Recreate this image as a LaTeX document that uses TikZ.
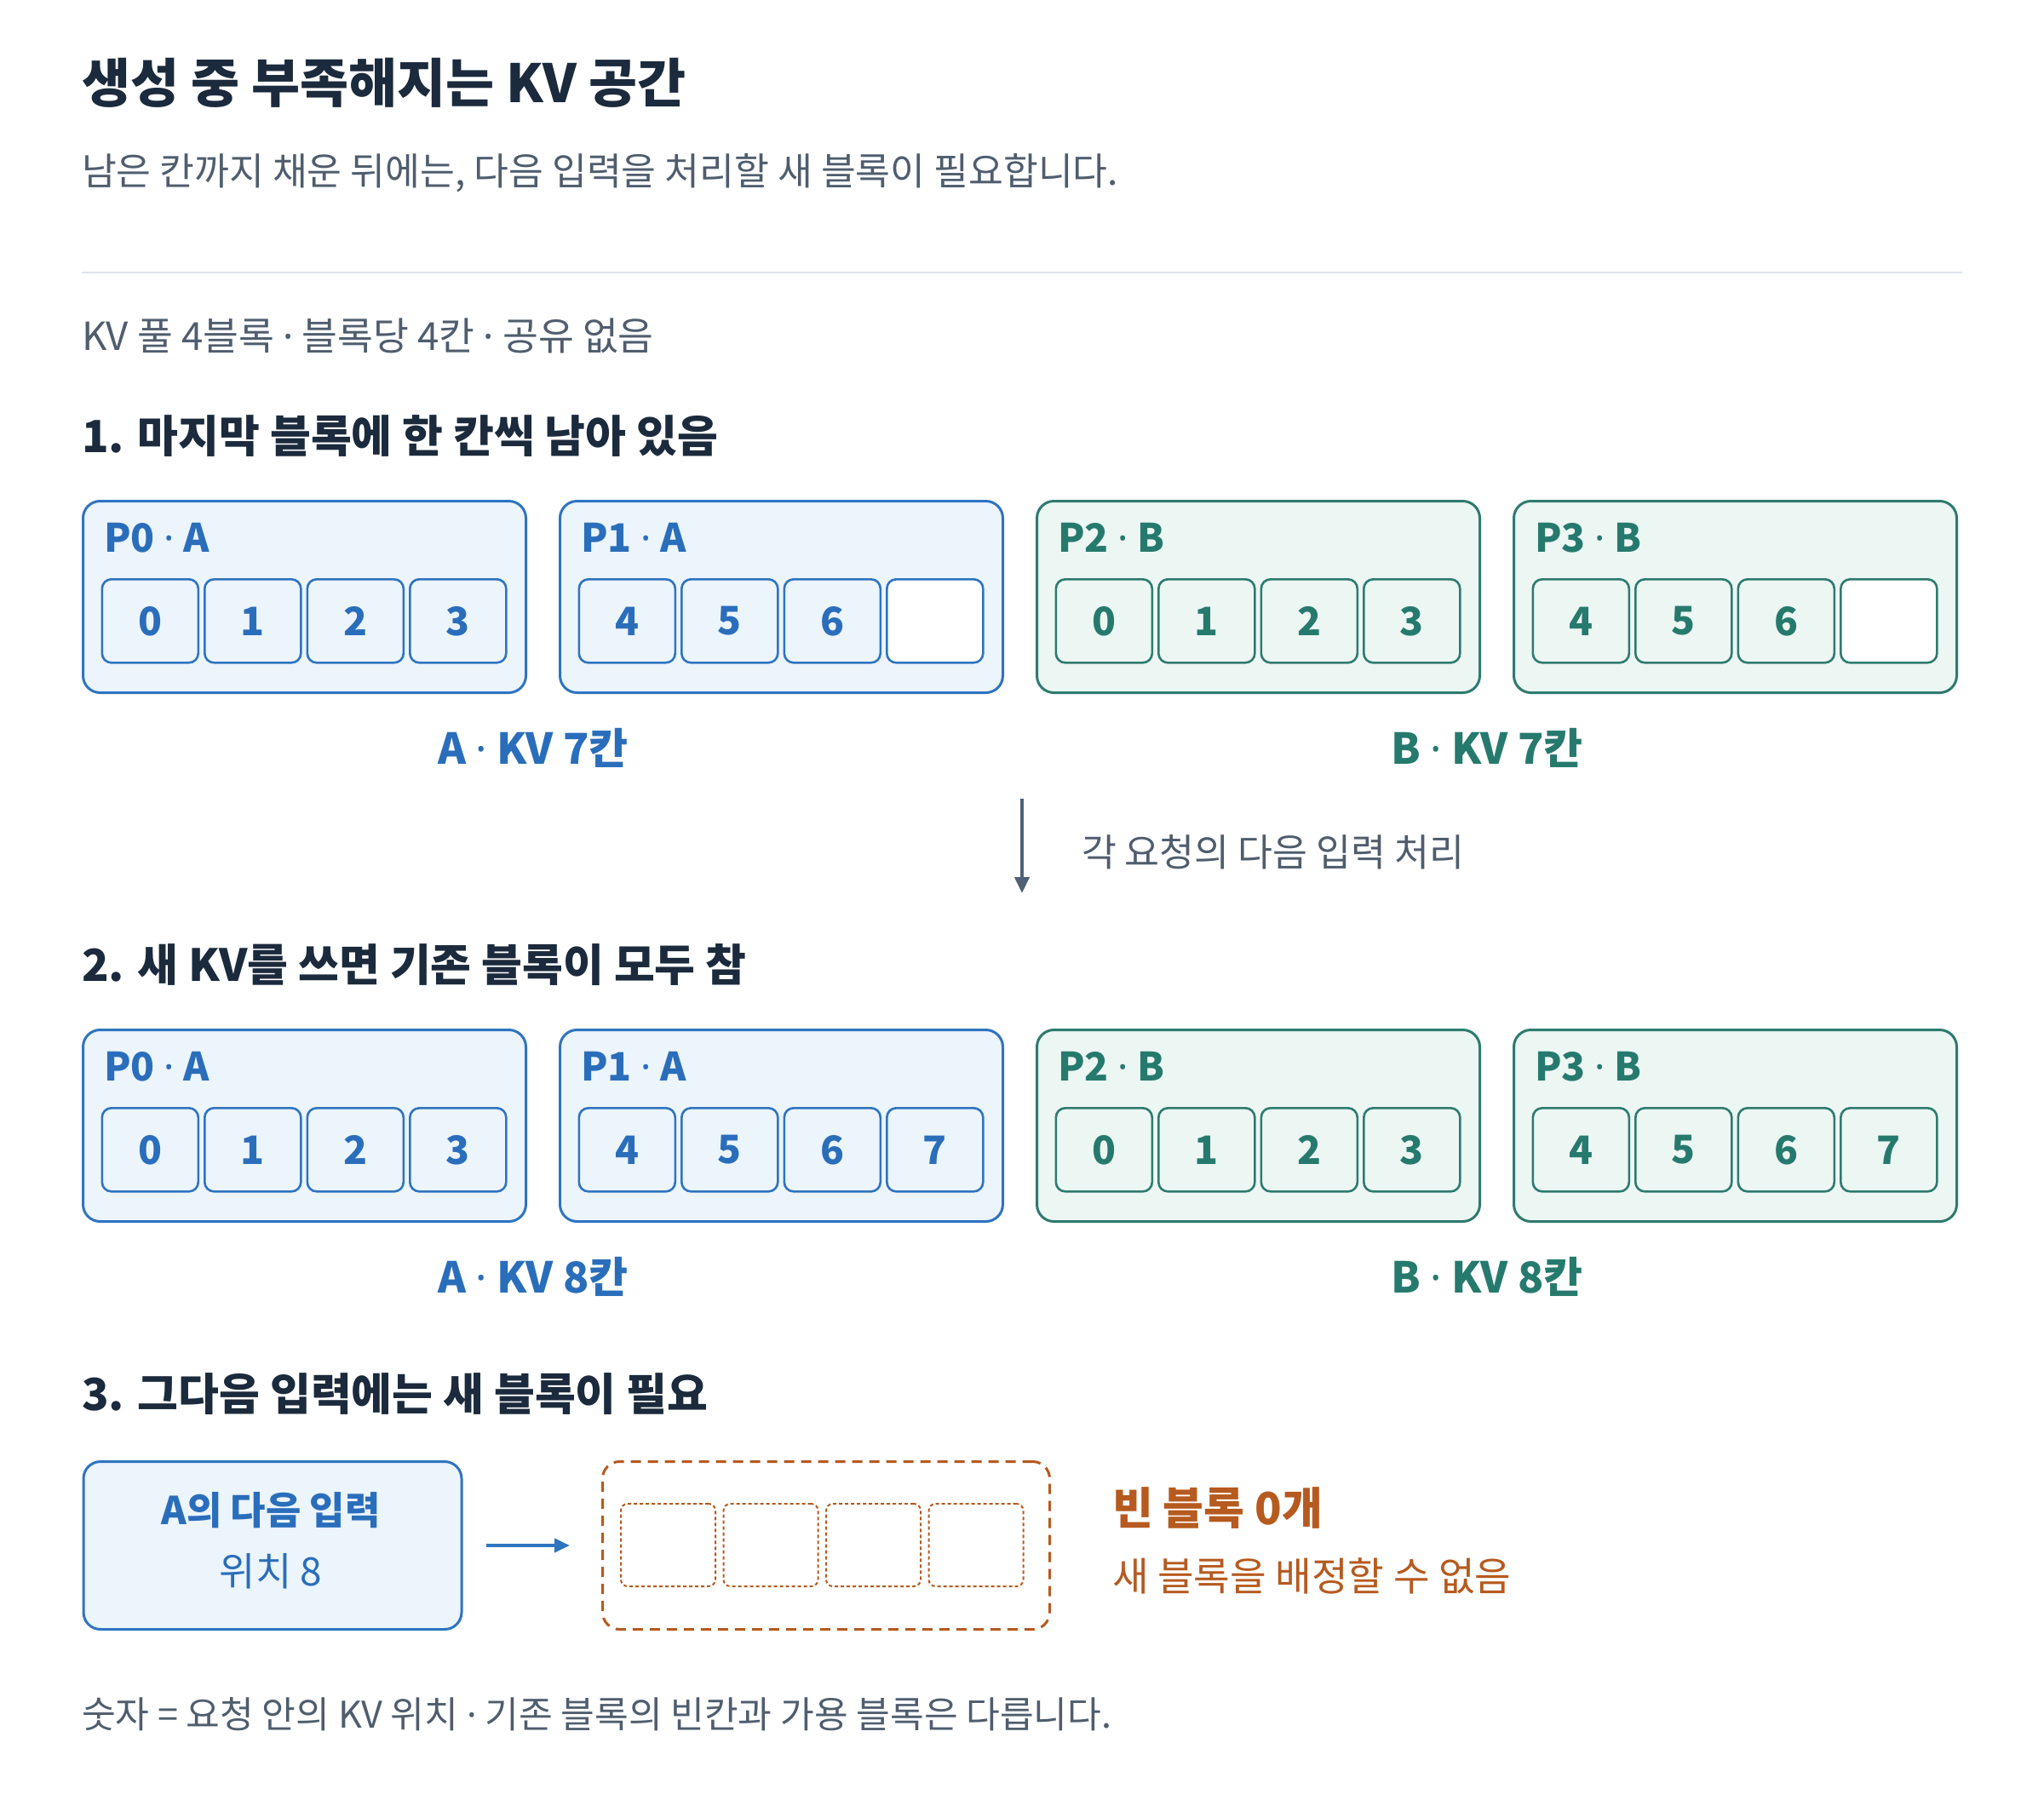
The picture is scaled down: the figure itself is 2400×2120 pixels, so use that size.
\documentclass[tikz,border=0pt]{standalone}
\usepackage{fontspec}
\setmainfont{Noto Sans CJK KR}
\newfontfamily\dotf{Noto Sans}
\newcommand\md{{\dotf ·}}
\usetikzlibrary{arrows.meta}
\definecolor{navy}{HTML}{1B2A3C}
\definecolor{subgray}{HTML}{4F5D6E}
\definecolor{rulecol}{HTML}{DDE5EE}
\definecolor{blueS}{HTML}{2F74C0}
\definecolor{blueF}{HTML}{ECF4FC}
\definecolor{blueT}{HTML}{2A6EBB}
\definecolor{greenS}{HTML}{2E7B6E}
\definecolor{greenF}{HTML}{ECF6F3}
\definecolor{greenT}{HTML}{267A6D}
\definecolor{orng}{HTML}{B65A1F}
\definecolor{arrowgray}{HTML}{4F6275}
\newcommand\fsz[1]{\fontsize{#1}{#1}\selectfont}
\begin{document}
\begin{tikzpicture}[x=1pt,y=-1pt,
  txt/.style={inner sep=0pt, outer sep=0pt, anchor=base west},
  pbox/.style={draw, line width=3pt, rounded corners=20pt, minimum width=520pt, minimum height=225pt, anchor=north west, inner sep=0pt},
  bluebox/.style={pbox, draw=blueS, fill=blueF},
  greenbox/.style={pbox, draw=greenS, fill=greenF},
  ptitle/.style={txt, font=\fsz{46}\bfseries},
  cell/.style={draw, line width=2.6pt, rounded corners=11pt, minimum width=113pt, minimum height=98pt, anchor=north west, inner sep=0pt, font=\fsz{46}\bfseries},
  bluecell/.style={cell, draw=blueS, fill=blueF, text=blueT},
  greencell/.style={cell, draw=greenS, fill=greenF, text=greenT},
  grouplabel/.style={inner sep=0pt, anchor=base, font=\fsz{50}\bfseries},
  heading/.style={txt, font=\fsz{52}\bfseries, text=navy},
  dotcell/.style={draw=orng, line width=2pt, dash pattern=on 4pt off 3pt, rounded corners=8pt, minimum width=111pt, minimum height=97pt, anchor=north west, inner sep=0pt}
]
\useasboundingbox[fill=white] (0,0) rectangle (2400,2120);

% header
\node[txt, font=\fsz{62}\bfseries, text=navy] (title) at (96,120) {생성 중 부족해지는 KV 공간};
\node[txt, font=\fsz{44.4}, text=subgray] (subtitle) at (96,217) {남은 칸까지 채운 뒤에는, 다음 입력을 처리할 새 블록이 필요합니다.};
\coordinate (ruleL) at (96,320);
\coordinate (ruleR) at (2304,320);
\draw[rulecol, line width=2pt] (ruleL) -- (ruleR);
\node[txt, font=\fsz{45.5}, text=subgray] (poolinfo) at (96,411) {KV 풀 4블록 \md{} 블록당 4칸 \md{} 공유 없음};

% section 1
\node[heading] (h1) at (96,531) {1. 마지막 블록에 한 칸씩 남아 있음};

\node[bluebox] (a0) at (96,587) {};
\node[ptitle, text=blueT] (a0t) at ([shift={(26,61)}]a0.north west) {P0 \md{} A};
\foreach \k/\v in {0/0,1/1,2/2,3/3}
  \node[bluecell] (a0c\k) at ([shift={(22.5+120.5*\k,92)}]a0.north west) {\v};

\node[bluebox] (a1) at (656,587) {};
\node[ptitle, text=blueT] (a1t) at ([shift={(26,61)}]a1.north west) {P1 \md{} A};
\foreach \k/\v in {0/4,1/5,2/6}
  \node[bluecell] (a1c\k) at ([shift={(22.5+120.5*\k,92)}]a1.north west) {\v};
\node[bluecell, fill=white] (a1c3) at ([shift={(22.5+120.5*3,92)}]a1.north west) {};

\node[greenbox] (a2) at (1216,587) {};
\node[ptitle, text=greenT] (a2t) at ([shift={(26,61)}]a2.north west) {P2 \md{} B};
\foreach \k/\v in {0/0,1/1,2/2,3/3}
  \node[greencell] (a2c\k) at ([shift={(22.5+120.5*\k,92)}]a2.north west) {\v};

\node[greenbox] (a3) at (1776,587) {};
\node[ptitle, text=greenT] (a3t) at ([shift={(26,61)}]a3.north west) {P3 \md{} B};
\foreach \k/\v in {0/4,1/5,2/6}
  \node[greencell] (a3c\k) at ([shift={(22.5+120.5*\k,92)}]a3.north west) {\v};
\node[greencell, fill=white] (a3c3) at ([shift={(22.5+120.5*3,92)}]a3.north west) {};

\node[grouplabel, text=blueT] (la1) at (626,897) {A \md{} KV 7칸};
\node[grouplabel, text=greenT] (lb1) at (1746,897) {B \md{} KV 7칸};

% transition arrow
\coordinate (dnA) at (1200,938);
\coordinate (dnB) at (1200,1049);
\draw[arrowgray, line width=4pt, -{Triangle[width=17pt,length=19pt]}] (dnA) -- (dnB);
\node[txt, font=\fsz{44.5}, text=subgray] (dnlabel) at (1270,1017) {각 요청의 다음 입력 처리};

% section 2
\node[heading] (h2) at (96,1152) {2. 새 KV를 쓰면 기존 블록이 모두 참};

\node[bluebox] (b0) at (96,1208) {};
\node[ptitle, text=blueT] (b0t) at ([shift={(26,61)}]b0.north west) {P0 \md{} A};
\foreach \k/\v in {0/0,1/1,2/2,3/3}
  \node[bluecell] (b0c\k) at ([shift={(22.5+120.5*\k,92)}]b0.north west) {\v};

\node[bluebox] (b1) at (656,1208) {};
\node[ptitle, text=blueT] (b1t) at ([shift={(26,61)}]b1.north west) {P1 \md{} A};
\foreach \k/\v in {0/4,1/5,2/6,3/7}
  \node[bluecell] (b1c\k) at ([shift={(22.5+120.5*\k,92)}]b1.north west) {\v};

\node[greenbox] (b2) at (1216,1208) {};
\node[ptitle, text=greenT] (b2t) at ([shift={(26,61)}]b2.north west) {P2 \md{} B};
\foreach \k/\v in {0/0,1/1,2/2,3/3}
  \node[greencell] (b2c\k) at ([shift={(22.5+120.5*\k,92)}]b2.north west) {\v};

\node[greenbox] (b3) at (1776,1208) {};
\node[ptitle, text=greenT] (b3t) at ([shift={(26,61)}]b3.north west) {P3 \md{} B};
\foreach \k/\v in {0/4,1/5,2/6,3/7}
  \node[greencell] (b3c\k) at ([shift={(22.5+120.5*\k,92)}]b3.north west) {\v};

\node[grouplabel, text=blueT] (la2) at (626,1518) {A \md{} KV 8칸};
\node[grouplabel, text=greenT] (lb2) at (1746,1518) {B \md{} KV 8칸};

% section 3
\node[heading] (h3) at (96,1656) {3. 그다음 입력에는 새 블록이 필요};

\node[draw=blueS, fill=blueF, line width=3pt, rounded corners=20pt, minimum width=444pt, minimum height=197pt, anchor=north west, inner sep=0pt] (inbox) at (96.5,1715) {};
\node[inner sep=0pt, anchor=base, font=\fsz{45}\bfseries, text=blueT] (intext1) at (318,1790) {A의 다음 입력};
\node[inner sep=0pt, anchor=base, font=\fsz{46}, text=blueT] (intext2) at (318,1862) {위치 8};

\node[draw=orng, line width=3pt, dash pattern=on 12pt off 8pt, rounded corners=20pt, minimum width=525pt, minimum height=197pt, anchor=north west, inner sep=0pt] (full) at (706,1715) {};
\foreach \k in {0,1,2,3}
  \node[dotcell] (fc\k) at (728+120.5*\k,1765) {};

\draw[blueS, line width=4pt, -{Triangle[width=16pt,length=18pt]}] ([xshift=27pt]inbox.east) -- ([xshift=-37pt]full.west);

\node[txt, font=\fsz{52}\bfseries, text=orng] (empty1) at (1306,1790) {빈 블록 0개};
\node[txt, font=\fsz{46.4}, text=orng] (empty2) at (1306,1868) {새 블록을 배정할 수 없음};

% footer
\node[txt, font=\fsz{43.2}, text=subgray] (footer) at (96,2029) {숫자 = 요청 안의 KV 위치 \md{} 기존 블록의 빈칸과 가용 블록은 다릅니다.};
\end{tikzpicture}
\end{document}
